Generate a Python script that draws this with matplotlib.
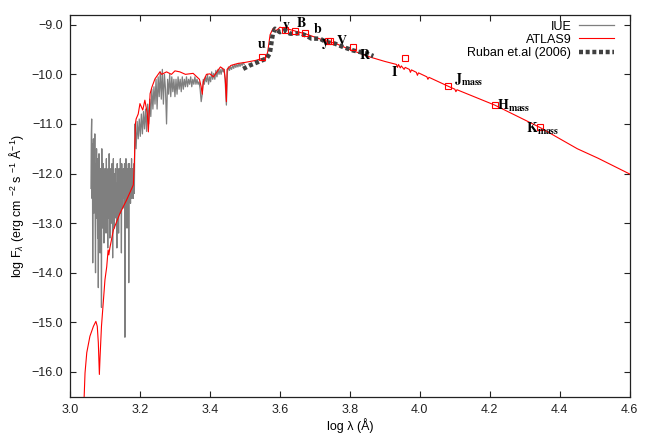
import numpy as np
import matplotlib
matplotlib.use("Agg")
import matplotlib.pyplot as plt
from matplotlib.ticker import FuncFormatter

plt.rcParams['font.family'] = ['Liberation Sans', 'DejaVu Sans']
plt.rcParams['mathtext.fontset'] = 'custom'
plt.rcParams['mathtext.rm'] = 'Liberation Sans'
plt.rcParams['mathtext.it'] = 'Liberation Sans:italic'
plt.rcParams['mathtext.bf'] = 'Liberation Sans:bold'

# ---------------- data ----------------
# IUE spectrum, short-wavelength part (log lambda grid 3.060 .. 3.185, step 0.001)
iue_uv_start, iue_uv_step = 3.060, 0.001
iue_uv_flux = [
    -12.3, -11.2, -10.9, -12.5, -11.4, -13.8, -12.0, -11.3, -12.8, -11.6,
    -12.2, -11.2, -13.0, -14.0, -11.8, -12.5, -11.5, -12.9, -12.2, -13.3,
    -11.7, -14.3, -12.4, -11.6, -12.8, -12.1, -13.6, -11.9, -12.5, -12.2,
    -14.7, -11.5, -12.7, -12.0, -13.1, -11.8, -12.4, -13.4, -12.1, -12.6,
    -11.9, -12.8, -12.3, -13.2, -11.7, -12.5, -12.9, -12.2, -13.5, -11.9,
    -12.4, -12.9, -11.6, -12.6, -13.3, -12.2, -12.7, -11.9, -13.0, -12.4,
    -11.8, -12.6, -13.7, -12.3, -11.7, -12.8, -12.4, -13.1, -12.0, -12.6,
    -11.9, -12.5, -12.9, -12.2, -13.5, -11.8, -12.4, -12.7, -12.1, -13.2,
    -11.9, -12.4, -12.2, -12.8, -11.7, -12.6, -12.3, -13.6, -11.8, -12.5,
    -12.0, -12.7, -12.2, -11.9, -12.5, -12.3, -11.8, -15.3, -12.1, -12.4,
    -11.7, -12.5, -12.2, -13.1, -11.9, -12.3, -12.6, -11.8, -14.2, -12.2,
    -11.8, -12.4, -12.1, -12.6, -11.9, -12.3, -11.7, -12.5, -12.1, -12.3,
    -11.9, -12.5, -12.1, -11.8, -12.4, -11.4,
]
# IUE spectrum, long-wavelength part (log lambda grid 3.186 .. 3.498, step 0.003)
iue_lw_start, iue_lw_step = 3.186, 0.003
iue_lw_flux = [
    -11.0, -11.5, -10.95, -11.3, -10.9, -11.25, -10.8, -11.2, -10.75, -11.1,
    -10.7, -11.15, -10.6, -11.0, -10.5, -10.85, -10.3, -10.7, -10.25, -10.6,
    -10.1, -10.7, -10.05, -10.45, -9.95, -10.5, -9.9, -10.6, -10.0, -10.3,
    -11.0, -10.1, -10.4, -10.0, -10.45, -10.05, -10.35, -10.1, -10.45, -10.1,
    -10.4, -10.05, -10.3, -10.1, -10.35, -10.05, -10.3, -10.1, -10.25, -10.05,
    -10.25, -10.1, -10.2, -10.05, -10.25, -10.1, -10.2, -10.05, -10.2, -10.1,
    -10.2, -10.15, -10.3, -10.55, -10.4, -10.1, -10.2, -10.05, -10.15, -10.0,
    -10.2, -10.05, -10.15, -9.95, -10.1, -9.98, -10.1, -9.92, -10.05, -9.9,
    -10.0, -9.9, -10.0, -9.88, -9.95, -9.9, -10.2, -10.62, -9.95, -9.85,
    -9.92, -9.85, -9.9, -9.82, -9.88, -9.8, -9.86, -9.8, -9.85, -9.78,
    -9.84, -9.78, -9.82, -9.76, -9.8,
]

# ATLAS9 model
atlas_logw = [3.040, 3.043, 3.048, 3.057, 3.067, 3.074, 3.078, 3.081, 3.084, 3.086,
              3.090, 3.100, 3.105, 3.109, 3.111, 3.114, 3.124, 3.129, 3.143, 3.162,
              3.181, 3.184, 3.187, 3.189, 3.195, 3.200, 3.208, 3.214, 3.221, 3.224,
              3.229, 3.234, 3.243, 3.257, 3.262, 3.276, 3.290, 3.300, 3.314, 3.330,
              3.352, 3.370, 3.375, 3.378, 3.381, 3.390, 3.400, 3.410, 3.420, 3.430,
              3.440, 3.444, 3.447, 3.449, 3.460, 3.480, 3.500, 3.530, 3.560, 3.565,
              3.572, 3.580, 3.590, 3.600, 3.620, 3.650, 3.680, 3.720, 3.760, 3.800,
              3.857, 3.900, 3.933, 3.936, 3.939, 3.944, 3.947, 3.955, 3.958, 3.970,
              3.973, 3.976, 3.990, 3.993, 3.996, 4.020, 4.023, 4.026, 4.081, 4.100,
              4.103, 4.106, 4.214, 4.343, 4.450, 4.509, 4.600]
atlas_flux = [-16.6, -16.02, -15.61, -15.28, -15.08, -14.98, -15.08, -15.41, -16.05, -15.69,
              -15.08, -14.14, -13.88, -13.54, -13.64, -13.50, -13.14, -13.05, -12.80, -12.53,
              -12.23, -11.80, -11.00, -10.90, -10.80, -10.59, -10.72, -10.52, -10.79, -11.16,
              -10.39, -10.26, -10.09, -9.95, -10.00, -9.95, -10.00, -9.93, -9.95, -10.00,
              -9.98, -10.10, -10.25, -10.40, -10.15, -10.00, -9.99, -10.05, -9.95, -9.85,
              -9.90, -10.10, -10.55, -9.90, -9.82, -9.78, -9.76, -9.72, -9.66, -9.55,
              -9.20, -9.08, -9.12, -9.05, -9.08, -9.14, -9.20, -9.30, -9.38, -9.50,
              -9.65, -9.74, -9.80, -9.86, -9.80, -9.87, -9.83, -9.90, -9.86, -9.90,
              -9.96, -9.91, -9.96, -10.02, -9.97, -10.05, -10.10, -10.06, -10.24, -10.30,
              -10.35, -10.31, -10.62, -11.07, -11.50, -11.69, -12.01]

# Ruban et al. (2006) spectrophotometry
ruban_logw = [3.495, 3.514, 3.538, 3.562, 3.571, 3.574, 3.577, 3.580, 3.586, 3.600,
              3.614, 3.629, 3.643, 3.657, 3.676, 3.690, 3.714, 3.733, 3.757, 3.781,
              3.810, 3.829, 3.848, 3.867]
ruban_flux = [-9.89, -9.82, -9.75, -9.68, -9.58, -9.45, -9.30, -9.18, -9.08, -9.15,
              -9.11, -9.18, -9.18, -9.17, -9.22, -9.28, -9.28, -9.35, -9.38, -9.45,
              -9.52, -9.55, -9.58, -9.63]

# photometry (open squares)
phot_logw = [3.548, 3.614, 3.643, 3.671, 3.738, 3.743, 3.808, 3.957, 4.081, 4.214, 4.343]
phot_flux = [-9.66, -9.10, -9.12, -9.16, -9.33, -9.33, -9.45, -9.67, -10.24, -10.62, -11.07]

# band labels: text, x, y
band_labels = ['u', 'v', 'B', 'b', 'y', 'V', 'R', 'I']
band_x = [3.548, 3.619, 3.662, 3.709, 3.731, 3.776, 3.843, 3.927]
band_y = [-9.38, -9.01, -8.97, -9.08, -9.38, -9.33, -9.60, -9.96]
ir_labels = ['J', 'H', 'K']
ir_x = [4.097, 4.221, 4.303]
ir_y = [-10.19, -10.72, -11.19]

xticks = [3.0, 3.2, 3.4, 3.6, 3.8, 4.0, 4.2, 4.4, 4.6]
yticks = [-9.0, -10.0, -11.0, -12.0, -13.0, -14.0, -15.0, -16.0]

# ---------------- plot ----------------
fig = plt.figure(figsize=(6.54, 4.36), dpi=100)
ax = fig.add_axes([0.107, 0.090, 0.856, 0.876])

iue_x = np.concatenate([iue_uv_start + iue_uv_step * np.arange(len(iue_uv_flux)),
                        iue_lw_start + iue_lw_step * np.arange(len(iue_lw_flux))])
iue_y = np.array(iue_uv_flux + iue_lw_flux)

ax.plot(iue_x, iue_y, color='#7f7f7f', lw=0.9, label='IUE', zorder=2)
ax.plot(atlas_logw, atlas_flux, color='#ff0000', lw=0.8, label='ATLAS9', zorder=3)
ax.plot(ruban_logw, ruban_flux, color='#404040', lw=3.2, ls=(0, (0.9, 0.6)),
        label='Ruban et.al (2006)', zorder=4)
ax.plot(phot_logw, phot_flux, ls='none', marker='s', ms=5, mfc='none',
        mec='#ff0000', mew=0.8, zorder=5)

for t, x, y in zip(band_labels, band_x, band_y):
    ax.text(x, y, r'$\mathbf{%s}$' % t, math_fontfamily='stix', fontsize=10,
            ha='center', va='center', color='black', zorder=6)
for t, x, y in zip(ir_labels, ir_x, ir_y):
    ax.text(x, y, r'$\mathbf{%s_{mass}}$' % t, math_fontfamily='stix', fontsize=10,
            ha='left', va='baseline', color='black', zorder=6)

ax.set_xlim(3.0, 4.6)
ax.set_ylim(-16.5, -8.8)
ax.set_xticks(xticks)
ax.set_yticks(yticks)
ax.xaxis.set_major_formatter(FuncFormatter(lambda v, p: f"{v:.1f}"))
ax.yaxis.set_major_formatter(FuncFormatter(lambda v, p: f"{v:.1f}".replace('-', '\u2212')))
ax.tick_params(direction='in', top=True, right=True, length=4, width=0.8,
               labelsize=9, pad=5, colors='#222222')
for s in ax.spines.values():
    s.set_linewidth(0.9)
    s.set_color('#222222')

ax.set_xlabel('log λ (Å)', fontsize=9, labelpad=2)
ax.set_ylabel(r'log F$_\lambda$ (erg cm $^{-2}$ s $^{-1}$ Å$^{-1}$)', fontsize=9)

leg = ax.legend(loc='upper right', bbox_to_anchor=(0.987, 1.008), frameon=False,
                markerfirst=False, fontsize=9, handlelength=2.8, labelspacing=0.1,
                handletextpad=0.6, borderaxespad=0.3)

fig.savefig('out.png', dpi=100)
